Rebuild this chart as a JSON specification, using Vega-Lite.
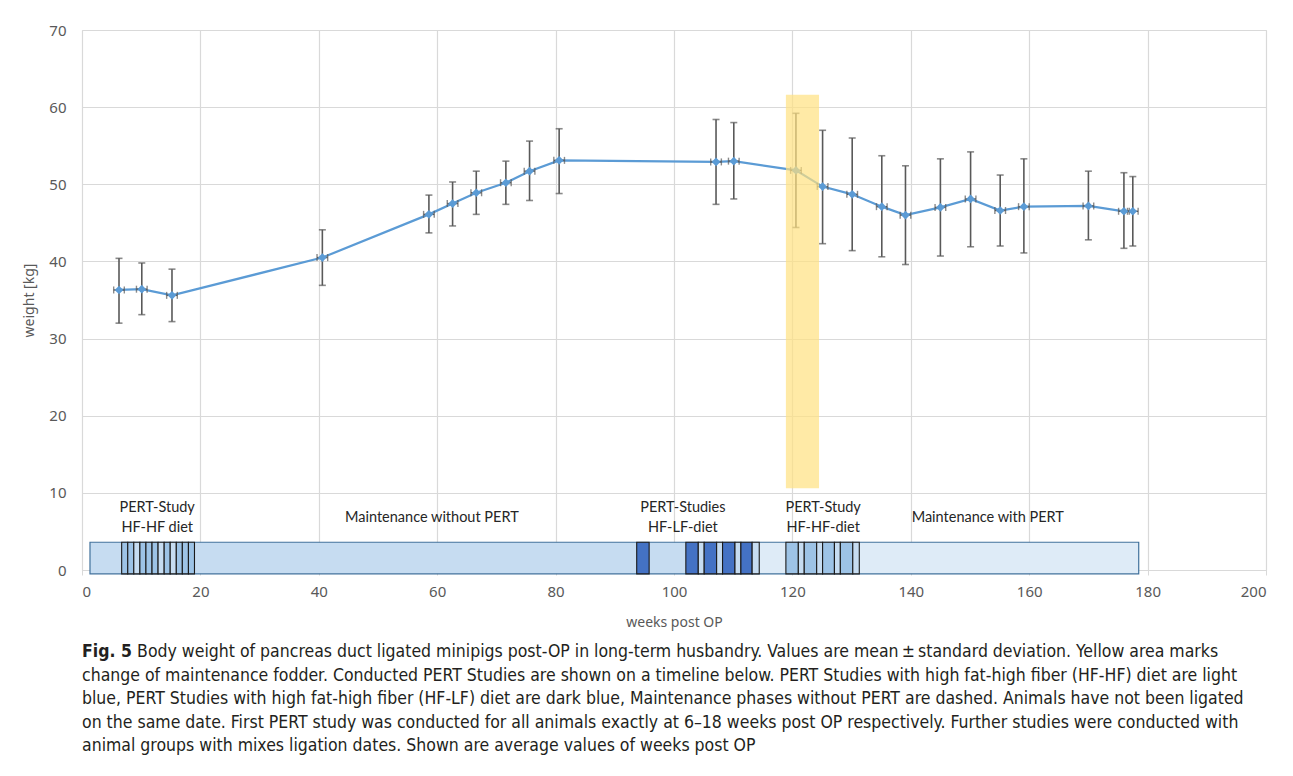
{
  "$schema": "https://vega.github.io/schema/vega-lite/v6.json",
  "autosize": {"type": "none"},
  "width": 1184,
  "height": 540,
  "padding": {"left": 82, "top": 30, "right": 27, "bottom": 206},
  "background": "white",
  "config": {
    "view": {"stroke": "#d9d9d9", "strokeWidth": 1},
    "axis": {"labelFont": "Noto Sans", "labelFontSize": 15, "labelColor": "#595959", "titleFont": "Noto Sans", "titleFontSize": 14, "titleColor": "#595959", "titleFontWeight": "normal", "gridColor": "#d9d9d9", "gridWidth": 1.2, "domainColor": "#d9d9d9", "tickColor": "#d9d9d9"}
  },
  "title": {
    "text": "Fig. 5",
    "subtitle": [
      "\u200b\u2003\u2003\u2003\u2002Body weight of pancreas duct ligated minipigs post-OP in long-term husbandry. Values are mean\u2009±\u2009standard deviation. Yellow area marks",
      "change of maintenance fodder. Conducted PERT Studies are shown on a timeline below. PERT Studies with high fat-high fiber (HF-HF) diet are light",
      "blue, PERT Studies with high fat-high fiber (HF-LF) diet are dark blue, Maintenance phases without PERT are dashed. Animals have not been ligated",
      "on the same date. First PERT study was conducted for all animals exactly at 6–18 weeks post OP respectively. Further studies were conducted with",
      "animal groups with mixes ligation dates. Shown are average values of weeks post OP"
    ],
    "orient": "bottom",
    "anchor": "start",
    "frame": "group",
    "font": "DejaVu Sans Condensed, DejaVu Sans, sans-serif",
    "fontSize": 17.5,
    "fontWeight": "bold",
    "color": "#231f20",
    "subtitleFont": "DejaVu Sans Condensed, DejaVu Sans, sans-serif",
    "subtitleFontSize": 17.5,
    "subtitleColor": "#231f20",
    "subtitleLineHeight": 23.5,
    "subtitlePadding": -17.5,
    "offset": 14
  },
  "datasets": {
    "pts": [
      {"w": 6.25, "m": 36.3, "lo": 32.0, "hi": 40.4, "wl": 5.35, "wh": 7.15},
      {"w": 10.1, "m": 36.4, "lo": 33.1, "hi": 39.8, "wl": 9.2, "wh": 11.0},
      {"w": 15.2, "m": 35.6, "lo": 32.2, "hi": 39.0, "wl": 14.3, "wh": 16.1},
      {"w": 40.6, "m": 40.5, "lo": 36.9, "hi": 44.1, "wl": 39.7, "wh": 41.5},
      {"w": 58.6, "m": 46.1, "lo": 43.7, "hi": 48.6, "wl": 57.7, "wh": 59.5},
      {"w": 62.6, "m": 47.5, "lo": 44.6, "hi": 50.3, "wl": 61.7, "wh": 63.5},
      {"w": 66.6, "m": 48.9, "lo": 46.1, "hi": 51.7, "wl": 65.7, "wh": 67.5},
      {"w": 71.6, "m": 50.2, "lo": 47.4, "hi": 53.0, "wl": 70.7, "wh": 72.5},
      {"w": 75.6, "m": 51.7, "lo": 47.9, "hi": 55.6, "wl": 74.7, "wh": 76.5},
      {"w": 80.6, "m": 53.1, "lo": 48.8, "hi": 57.2, "wl": 79.7, "wh": 81.5},
      {"w": 107.1, "m": 52.9, "lo": 47.4, "hi": 58.4, "wl": 106.2, "wh": 108.0},
      {"w": 110.1, "m": 53.0, "lo": 48.1, "hi": 58.0, "wl": 109.2, "wh": 111.0},
      {"w": 120.6, "m": 51.8, "lo": 44.4, "hi": 59.2, "wl": 119.7, "wh": 121.5},
      {"w": 125.1, "m": 49.7, "lo": 42.3, "hi": 57.0, "wl": 124.2, "wh": 126.0},
      {"w": 130.1, "m": 48.7, "lo": 41.4, "hi": 56.0, "wl": 129.2, "wh": 131.0},
      {"w": 135.1, "m": 47.1, "lo": 40.6, "hi": 53.7, "wl": 134.2, "wh": 136.0},
      {"w": 139.1, "m": 46.0, "lo": 39.6, "hi": 52.4, "wl": 138.2, "wh": 140.0},
      {"w": 145.0, "m": 47.0, "lo": 40.7, "hi": 53.3, "wl": 144.1, "wh": 145.9},
      {"w": 150.1, "m": 48.1, "lo": 41.9, "hi": 54.2, "wl": 149.2, "wh": 151.0},
      {"w": 155.1, "m": 46.6, "lo": 42.0, "hi": 51.2, "wl": 154.2, "wh": 156.0},
      {"w": 159.1, "m": 47.1, "lo": 41.1, "hi": 53.3, "wl": 158.2, "wh": 160.0},
      {"w": 170.0, "m": 47.2, "lo": 42.8, "hi": 51.7, "wl": 169.1, "wh": 170.9},
      {"w": 176.0, "m": 46.5, "lo": 41.7, "hi": 51.5, "wl": 175.1, "wh": 176.9},
      {"w": 177.5, "m": 46.5, "lo": 42.0, "hi": 51.0, "wl": 176.6, "wh": 178.4}
    ],
    "bg": [
      {"s": 1.35, "e": 102.0, "k": "hatch"},
      {"s": 102.0, "e": 178.5, "k": "plain"}
    ],
    "frame": [
      {"s": 1.35, "e": 178.5}
    ],
    "blocks": [
      {"s": 6.7, "e": 7.73, "k": "L"},
      {"s": 7.73, "e": 8.75, "k": "L"},
      {"s": 8.75, "e": 9.78, "k": "H"},
      {"s": 9.78, "e": 10.8, "k": "L"},
      {"s": 10.8, "e": 11.83, "k": "L"},
      {"s": 11.83, "e": 12.85, "k": "L"},
      {"s": 12.85, "e": 13.88, "k": "H"},
      {"s": 13.88, "e": 14.9, "k": "L"},
      {"s": 14.9, "e": 15.93, "k": "H"},
      {"s": 15.93, "e": 16.95, "k": "L"},
      {"s": 16.95, "e": 17.98, "k": "L"},
      {"s": 17.98, "e": 19.0, "k": "L"},
      {"s": 93.7, "e": 95.8, "k": "D"},
      {"s": 102.0, "e": 104.1, "k": "D"},
      {"s": 104.1, "e": 105.1, "k": "H"},
      {"s": 105.1, "e": 107.2, "k": "D"},
      {"s": 107.2, "e": 108.2, "k": "H"},
      {"s": 108.2, "e": 110.3, "k": "D"},
      {"s": 110.3, "e": 111.3, "k": "H"},
      {"s": 111.3, "e": 113.2, "k": "D"},
      {"s": 113.2, "e": 114.4, "k": "H"},
      {"s": 118.9, "e": 121.0, "k": "L"},
      {"s": 121.0, "e": 122.0, "k": "H"},
      {"s": 122.0, "e": 124.1, "k": "L"},
      {"s": 124.1, "e": 125.1, "k": "H"},
      {"s": 125.1, "e": 127.1, "k": "L"},
      {"s": 127.1, "e": 128.1, "k": "H"},
      {"s": 128.1, "e": 130.2, "k": "L"},
      {"s": 130.2, "e": 131.3, "k": "H"}
    ],
    "band": [
      {"s": 118.9, "e": 124.5, "lo": 10.6, "hi": 61.6}
    ],
    "labels2": [
      {"x": 12.7, "t": "PERT-Study\nHF-HF diet"},
      {"x": 101.5, "t": "PERT-Studies\nHF-LF-diet"},
      {"x": 125.2, "t": "PERT-Study\nHF-HF-diet"}
    ],
    "labels1": [
      {"x": 59.1, "t": "Maintenance without PERT"},
      {"x": 153.0, "t": "Maintenance with PERT"}
    ]
  },
  "layer": [
    {
      "data": {"name": "pts"},
      "mark": {"type": "point", "opacity": 0},
      "encoding": {
        "x": {"field": "w", "type": "quantitative", "scale": {"domain": [0, 200], "nice": false}, "axis": {"values": [0, 20, 40, 60, 80, 100, 120, 140, 160, 180, 200], "title": "weeks post OP", "grid": true, "ticks": true, "tickSize": 5, "labelPadding": 9, "titlePadding": 16, "domain": true}},
        "y": {"field": "m", "type": "quantitative", "scale": {"domain": [0, 70], "nice": false}, "axis": {"values": [0, 10, 20, 30, 40, 50, 60, 70], "title": "weight [kg]", "grid": true, "ticks": false, "domain": false, "labelPadding": 16, "titlePadding": 12}}
      }
    },
    {
      "data": {"name": "bg"},
      "mark": {"type": "rect", "strokeWidth": 0},
      "encoding": {
        "x": {"field": "s", "type": "quantitative"},
        "x2": {"field": "e"},
        "y": {"datum": 3.6},
        "y2": {"datum": -0.5},
        "color": {"field": "k", "type": "nominal", "scale": {"domain": ["hatch", "plain"], "range": ["#c6dcf1", "#deebf7"]}, "legend": null}
      }
    },
    {
      "data": {"name": "frame"},
      "mark": {"type": "rect", "fill": null, "fillOpacity": 0, "stroke": "#41719c", "strokeWidth": 1.2},
      "encoding": {
        "x": {"field": "s", "type": "quantitative"},
        "x2": {"field": "e"},
        "y": {"datum": 3.6},
        "y2": {"datum": -0.5}
      }
    },
    {
      "data": {"name": "blocks"},
      "mark": {"type": "rect", "stroke": "#1a1a1a", "strokeWidth": 1.1},
      "encoding": {
        "x": {"field": "s", "type": "quantitative"},
        "x2": {"field": "e"},
        "y": {"datum": 3.6},
        "y2": {"datum": -0.5},
        "fill": {"field": "k", "type": "nominal", "scale": {"domain": ["L", "D", "H"], "range": ["#9dc3e6", "#4472c4", "#c6dcf1"]}, "legend": null}
      }
    },
    {
      "data": {"name": "labels2"},
      "mark": {"type": "text", "font": "Lato", "fontSize": 14.5, "color": "#262626", "lineBreak": "\n", "lineHeight": 20, "baseline": "middle", "align": "center"},
      "encoding": {
        "x": {"field": "x", "type": "quantitative"},
        "y": {"datum": 8.1},
        "text": {"field": "t"}
      }
    },
    {
      "data": {"name": "labels1"},
      "mark": {"type": "text", "font": "Lato", "fontSize": 14.5, "color": "#262626", "baseline": "middle", "align": "center"},
      "encoding": {
        "x": {"field": "x", "type": "quantitative"},
        "y": {"datum": 6.8},
        "text": {"field": "t"}
      }
    },
    {
      "data": {"name": "pts"},
      "mark": {"type": "line", "color": "#5b9bd5", "strokeWidth": 2.2},
      "encoding": {
        "x": {"field": "w", "type": "quantitative"},
        "y": {"field": "m", "type": "quantitative"}
      }
    },
    {
      "data": {"name": "pts"},
      "mark": {"type": "rule", "color": "#595959", "strokeWidth": 1.6},
      "encoding": {
        "x": {"field": "w", "type": "quantitative"},
        "y": {"field": "lo", "type": "quantitative"},
        "y2": {"field": "hi"}
      }
    },
    {
      "data": {"name": "pts"},
      "mark": {"type": "tick", "orient": "horizontal", "color": "#595959", "size": 7, "thickness": 1.6},
      "encoding": {
        "x": {"field": "w", "type": "quantitative"},
        "y": {"field": "lo", "type": "quantitative"}
      }
    },
    {
      "data": {"name": "pts"},
      "mark": {"type": "tick", "orient": "horizontal", "color": "#595959", "size": 7, "thickness": 1.6},
      "encoding": {
        "x": {"field": "w", "type": "quantitative"},
        "y": {"field": "hi", "type": "quantitative"}
      }
    },
    {
      "data": {"name": "pts"},
      "mark": {"type": "rule", "color": "#595959", "strokeWidth": 1.4},
      "encoding": {
        "x": {"field": "wl", "type": "quantitative"},
        "x2": {"field": "wh"},
        "y": {"field": "m", "type": "quantitative"}
      }
    },
    {
      "data": {"name": "pts"},
      "mark": {"type": "tick", "orient": "vertical", "color": "#595959", "size": 7, "thickness": 1.4},
      "encoding": {
        "x": {"field": "wl", "type": "quantitative"},
        "y": {"field": "m", "type": "quantitative"}
      }
    },
    {
      "data": {"name": "pts"},
      "mark": {"type": "tick", "orient": "vertical", "color": "#595959", "size": 7, "thickness": 1.4},
      "encoding": {
        "x": {"field": "wh", "type": "quantitative"},
        "y": {"field": "m", "type": "quantitative"}
      }
    },
    {
      "data": {"name": "pts"},
      "mark": {"type": "point", "shape": "diamond", "filled": true, "color": "#5b9bd5", "size": 75, "opacity": 1},
      "encoding": {
        "x": {"field": "w", "type": "quantitative"},
        "y": {"field": "m", "type": "quantitative"}
      }
    },
    {
      "data": {"name": "band"},
      "mark": {"type": "rect", "color": "#ffe180", "opacity": 0.7},
      "encoding": {
        "x": {"field": "s", "type": "quantitative"},
        "x2": {"field": "e"},
        "y": {"field": "lo", "type": "quantitative"},
        "y2": {"field": "hi"}
      }
    }
  ]
}
